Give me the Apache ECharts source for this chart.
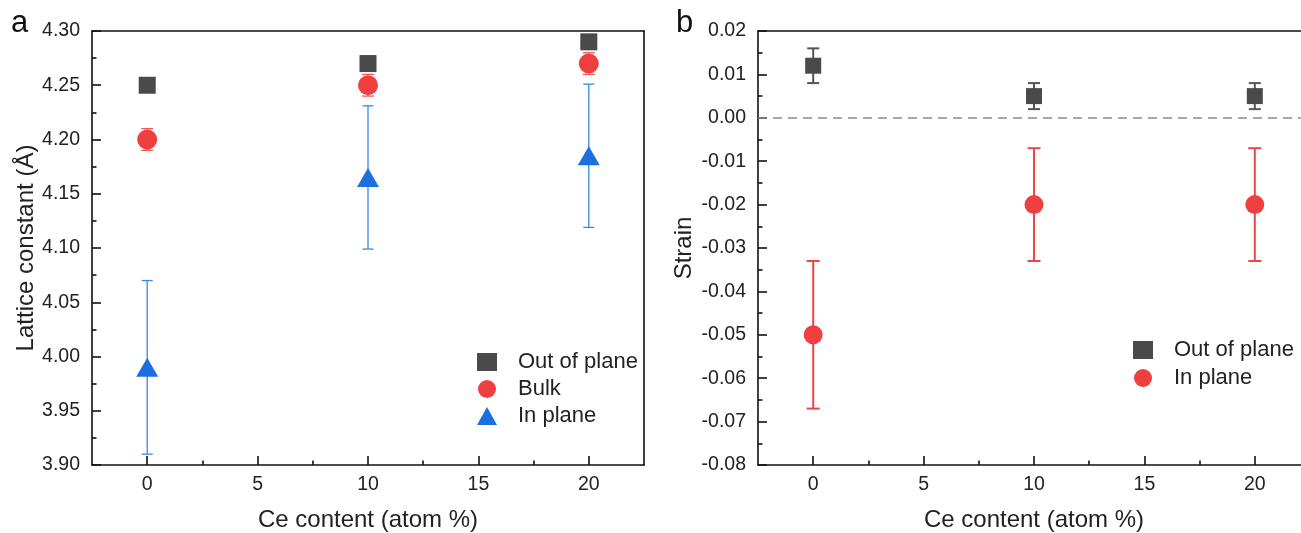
<!DOCTYPE html>
<html>
<head>
<meta charset="utf-8">
<script src="https://cdn.jsdelivr.net/npm/echarts@6/dist/echarts.min.js"></script>
<style>
html,body{margin:0;padding:0;background:#fff;overflow:hidden;}
#chart{width:1301px;height:533px;}
</style>
</head>
<body>
<div id="chart"></div>
<script>
// ---- data ----
const ceContent = [0, 10, 20];
const xTickLabels = [0, 5, 10, 15, 20];
const xMinorTicks = [2.5, 7.5, 12.5, 17.5];

const latticeOut = [4.25, 4.27, 4.29];
const latticeBulk = [4.20, 4.25, 4.27];
const latticeBulkErr = [0.01, 0.01, 0.01];
const latticeIn = [3.99, 4.165, 4.185];
const latticeInErr = [0.08, 0.066, 0.066];

const strainOut = [0.012, 0.005, 0.005];
const strainOutErr = [0.004, 0.003, 0.003];
const strainIn = [-0.050, -0.020, -0.020];
const strainInErr = [0.017, 0.013, 0.013];

// ---- style ----
const FONT = 'Liberation Sans, Arial, sans-serif';
const C_GREY = '#4a4a4a';
const C_RED = '#f03f3f';
const C_BLUE = '#1b6fdf';

function pts(xs, ys) { return xs.map((x, i) => [x, ys[i]]); }
function errPts(xs, ys, es) { return xs.map((x, i) => [x, ys[i] - es[i], ys[i] + es[i]]); }

function errRender(capW, color, lw) {
  return function (params, api) {
    const x = api.value(0), lo = api.value(1), hi = api.value(2);
    const pLo = api.coord([x, lo]), pHi = api.coord([x, hi]);
    const h = capW / 2;
    const st = { stroke: color, lineWidth: lw };
    return {
      type: 'group', children: [
        { type: 'line', shape: { x1: pHi[0], y1: pHi[1], x2: pLo[0], y2: pLo[1] }, style: st },
        { type: 'line', shape: { x1: pHi[0] - h, y1: pHi[1], x2: pHi[0] + h, y2: pHi[1] }, style: st },
        { type: 'line', shape: { x1: pLo[0] - h, y1: pLo[1], x2: pLo[0] + h, y2: pLo[1] }, style: st }
      ]
    };
  };
}

const lbl = { fontFamily: FONT, fontSize: 19.5, color: '#222' };
const titleStyle = { fontFamily: FONT, fontSize: 24, color: '#222' };
const axLine = { show: true, onZero: false, lineStyle: { color: '#111', width: 1.6 } };
const fmt2 = v => (Math.abs(v) < 1e-9 ? 0 : v).toFixed(2);

function xAxes(gi) {
  return [
    { gridIndex: gi, type: 'value', min: -2.5, max: 22.5, interval: 2.5, position: 'bottom',
      axisLine: axLine, splitLine: { show: false },
      axisTick: { show: true, inside: true, length: 9, customValues: xTickLabels, lineStyle: { color: '#111', width: 1.6 } },
      axisLabel: { customValues: xTickLabels, margin: 10, ...lbl },
      name: 'Ce content (atom %)', nameLocation: 'middle', nameGap: 43,
      nameTextStyle: titleStyle },
    { gridIndex: gi, type: 'value', min: -2.5, max: 22.5, interval: 2.5, position: 'bottom',
      axisLine: { show: false, onZero: false }, splitLine: { show: false },
      axisTick: { show: true, inside: true, length: 4.5, customValues: xMinorTicks, lineStyle: { color: '#111', width: 1.6 } },
      axisLabel: { show: false } },
    { gridIndex: gi, type: 'value', min: -2.5, max: 22.5, interval: 2.5, position: 'top',
      axisLine: axLine, splitLine: { show: false }, axisTick: { show: false }, axisLabel: { show: false } }
  ];
}

function yAxes(gi, min, max, interval, name, nameGap) {
  return [
    { gridIndex: gi, type: 'value', min: min, max: max, interval: interval, position: 'left',
      axisLine: axLine, splitLine: { show: false },
      axisTick: { show: true, inside: true, length: 9, lineStyle: { color: '#111', width: 1.6 } },
      minorTick: { show: true, splitNumber: 2, length: 4.5, lineStyle: { color: '#111', width: 1.6 } },
      minorSplitLine: { show: false },
      axisLabel: { margin: 12, formatter: fmt2, ...lbl },
      name: name, nameLocation: 'middle', nameGap: nameGap,
      nameTextStyle: titleStyle },
    { gridIndex: gi, type: 'value', min: min, max: max, interval: interval, position: 'right',
      axisLine: axLine, splitLine: { show: false }, axisTick: { show: false }, axisLabel: { show: false } }
  ];
}

const chart = echarts.init(document.getElementById('chart'), null, { renderer: 'canvas' });

const option = {
  backgroundColor: '#fff',
  animation: false,
  textStyle: { fontFamily: FONT },
  grid: [
    { left: 92, top: 31, width: 552, height: 434, outerBoundsMode: 'none', containLabel: false },
    { left: 758, top: 31, width: 552, height: 434, outerBoundsMode: 'none', containLabel: false }
  ],
  xAxis: [...xAxes(0), ...xAxes(1)],
  yAxis: [...yAxes(0, 3.9, 4.3, 0.05, 'Lattice constant (Å)', 52), ...yAxes(1, -0.08, 0.02, 0.01, 'Strain', 62)],
  graphic: [
    { type: 'text', left: 11, top: 8, style: { text: 'a', fontFamily: FONT, fontSize: 31, fill: '#111' } },
    { type: 'text', left: 676, top: 8, style: { text: 'b', fontFamily: FONT, fontSize: 31, fill: '#111' } }
  ],
  legend: [
    { orient: 'vertical', left: 472, top: 346, itemWidth: 20, itemHeight: 18, itemGap: 5, selectedMode: false,
      textStyle: { fontFamily: FONT, fontSize: 22, color: '#222', lineHeight: 22, padding: [0, 0, 0, 16] },
      data: [
        { name: 'Out of plane', icon: 'rect', itemStyle: { color: C_GREY } },
        { name: 'Bulk', icon: 'circle', itemStyle: { color: C_RED } },
        { name: 'In plane', icon: 'triangle', itemStyle: { color: C_BLUE } }
      ] },
    { orient: 'vertical', left: 1128, top: 334, itemWidth: 20, itemHeight: 18, itemGap: 6, selectedMode: false,
      textStyle: { fontFamily: FONT, fontSize: 22, color: '#222', lineHeight: 22, padding: [0, 0, 0, 16] },
      data: [
        { name: 'Out of plane', icon: 'rect', itemStyle: { color: C_GREY } },
        { name: 'In plane', icon: 'circle', itemStyle: { color: C_RED } }
      ] }
  ],
  series: [
    // panel a
    { type: 'custom', name: 'In plane', xAxisIndex: 0, yAxisIndex: 0, z: 2,
      renderItem: errRender(11, '#3a86e8', 1.3), data: errPts(ceContent, latticeIn, latticeInErr), encode: { x: 0, y: [1, 2] } },
    { type: 'custom', name: 'Bulk', xAxisIndex: 0, yAxisIndex: 0, z: 2,
      renderItem: errRender(12, '#f25a5a', 1.3), data: errPts(ceContent, latticeBulk, latticeBulkErr), encode: { x: 0, y: [1, 2] } },
    { type: 'scatter', name: 'Out of plane', xAxisIndex: 0, yAxisIndex: 0, z: 3,
      symbol: 'rect', symbolSize: 17, itemStyle: { color: C_GREY, opacity: 1 }, data: pts(ceContent, latticeOut) },
    { type: 'scatter', name: 'Bulk', xAxisIndex: 0, yAxisIndex: 0, z: 3,
      symbol: 'circle', symbolSize: 20, itemStyle: { color: C_RED, opacity: 1 }, data: pts(ceContent, latticeBulk) },
    { type: 'scatter', name: 'In plane', xAxisIndex: 0, yAxisIndex: 0, z: 3,
      symbol: 'triangle', symbolSize: [22, 19], itemStyle: { color: C_BLUE, opacity: 1 }, data: pts(ceContent, latticeIn) },
    // panel b
    { type: 'custom', name: 'Out of plane', xAxisIndex: 3, yAxisIndex: 2, z: 2,
      renderItem: errRender(12, '#555555', 2), data: errPts(ceContent, strainOut, strainOutErr), encode: { x: 0, y: [1, 2] } },
    { type: 'custom', name: 'In plane', xAxisIndex: 3, yAxisIndex: 2, z: 2,
      renderItem: errRender(13, '#f04545', 2), data: errPts(ceContent, strainIn, strainInErr), encode: { x: 0, y: [1, 2] } },
    { type: 'scatter', name: 'Out of plane', xAxisIndex: 3, yAxisIndex: 2, z: 3,
      symbol: 'rect', symbolSize: 16, itemStyle: { color: C_GREY, opacity: 1 }, data: pts(ceContent, strainOut),
      markLine: { silent: true, symbol: 'none', label: { show: false },
        lineStyle: { color: '#8a8a8a', width: 1.6, type: [9, 6] },
        data: [{ yAxis: 0 }] } },
    { type: 'scatter', name: 'In plane', xAxisIndex: 3, yAxisIndex: 2, z: 3,
      symbol: 'circle', symbolSize: 19, itemStyle: { color: C_RED, opacity: 1 }, data: pts(ceContent, strainIn) }
  ]
};
chart.setOption(option);
</script>
</body>
</html>
